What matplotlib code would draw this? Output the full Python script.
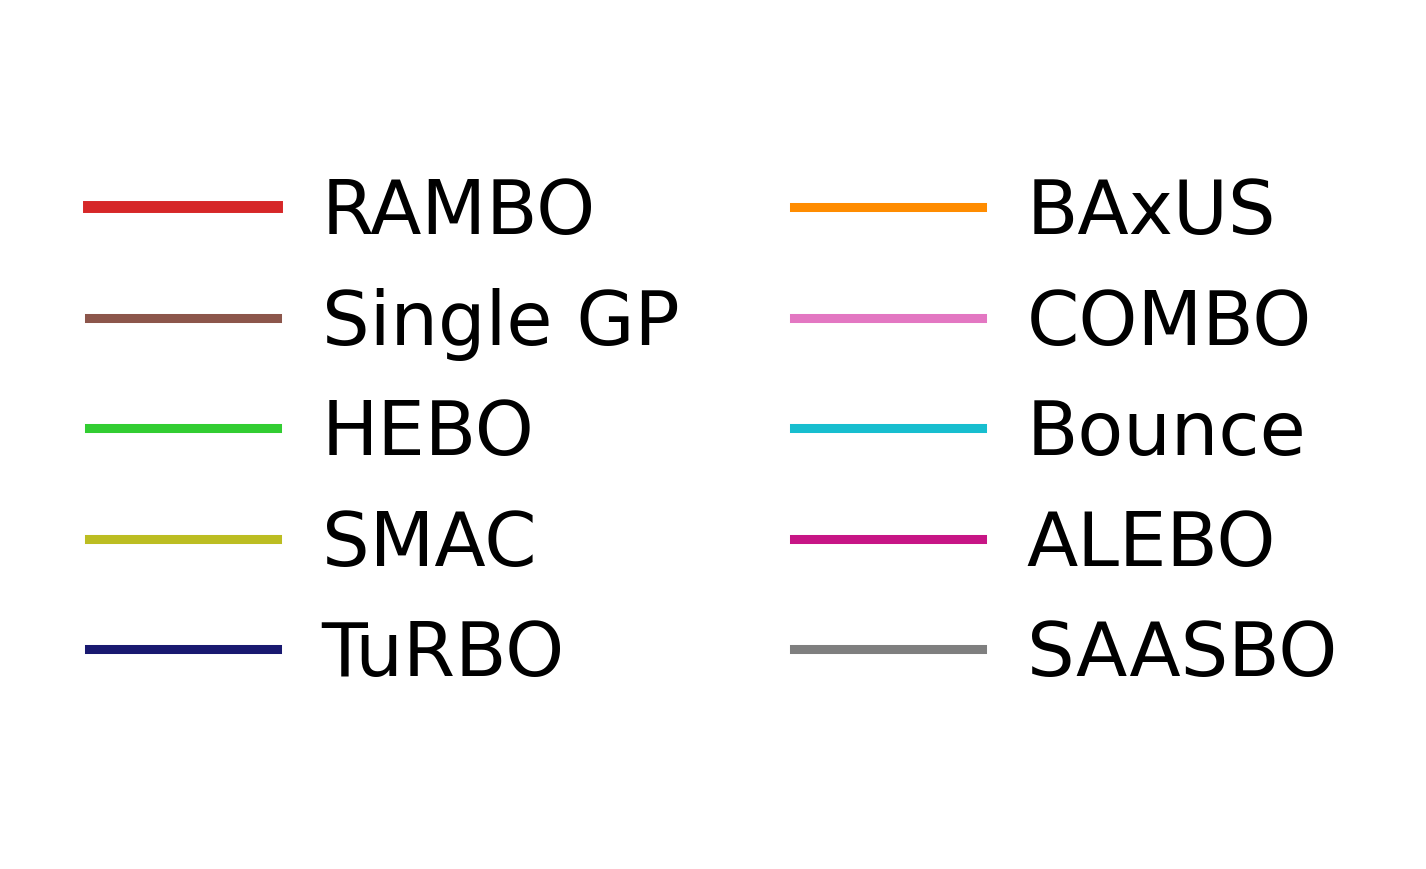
import matplotlib.pyplot as plt
from matplotlib.lines import Line2D

# Legend entries, in column order
methods = ["RAMBO", "Single GP", "HEBO", "SMAC", "TuRBO",
           "BAxUS", "COMBO", "Bounce", "ALEBO", "SAASBO"]
colors = ["#d62728", "#8c564b", "#32cd32", "#bcbd22", "#191970",
          "#ff8c00", "#e377c2", "#17becf", "#c71585", "#7f7f7f"]
widths = [8.6, 6.5, 6.5, 6.5, 6.5, 6.5, 6.5, 6.5, 6.5, 6.5]

fig = plt.figure(figsize=(14.26, 8.70), dpi=100)
ax = fig.add_axes([0, 0, 1, 1])
ax.axis("off")

handles = [Line2D([0], [0], color=c, lw=w) for c, w in zip(colors, widths)]
ax.legend(handles, methods, ncol=2, loc="center", frameon=False,
          fontsize=54, handlelength=2.5, handletextpad=0.6,
          labelspacing=0.5, columnspacing=1.53)

fig.savefig("out.png", dpi=100)
